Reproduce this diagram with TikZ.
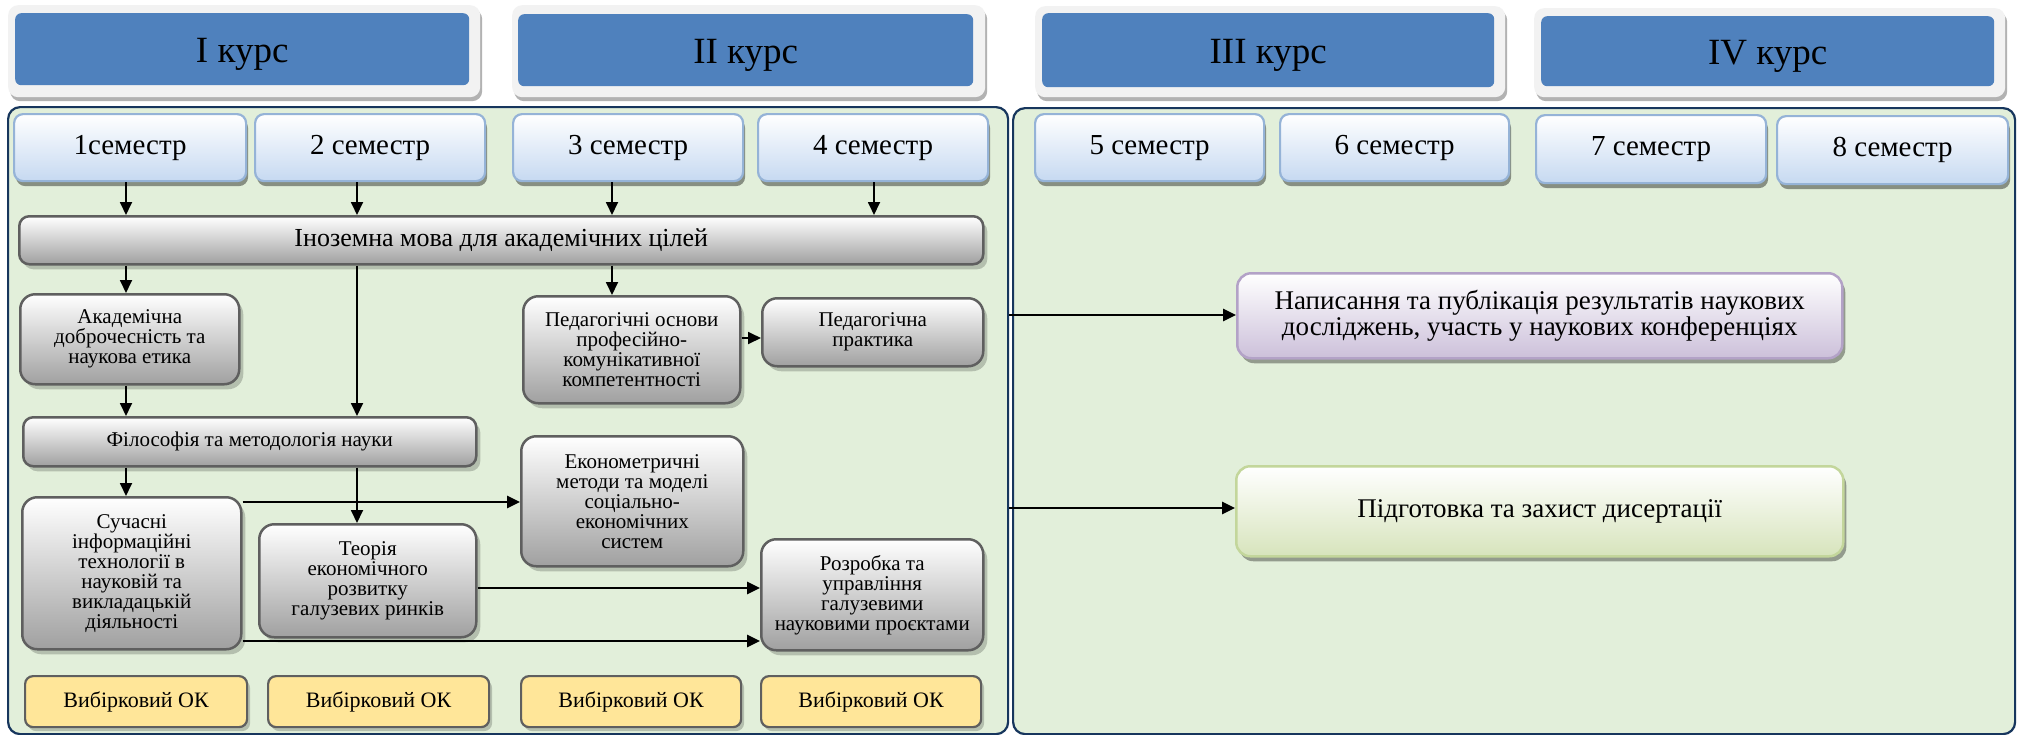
\documentclass[tikz,border=0pt]{standalone}
\usepackage{fontspec}
\setmainfont{Liberation Serif}
\usetikzlibrary{arrows.meta,shadows,calc}
\definecolor{hblue}{HTML}{4F81BD}
\definecolor{hfr}{HTML}{F2F2F2}
\definecolor{pgreen}{HTML}{E2EFDA}
\definecolor{pnavy}{HTML}{17365D}
\definecolor{semb}{HTML}{C6D9F1}
\definecolor{semd}{HTML}{95B3D7}
\definecolor{gbot}{HTML}{A0A0A0}
\definecolor{gdr}{HTML}{5F5F5F}
\definecolor{yel}{HTML}{FFE699}
\definecolor{purb}{HTML}{CCC0DA}
\definecolor{purd}{HTML}{B3A2C7}
\definecolor{grnb}{HTML}{D7E4BC}
\definecolor{grnd}{HTML}{C3D69B}
\newcommand\bx[7]{\node[#1, anchor=north west, minimum width={#5-#3}, minimum height={#6-#4}] (#2) at (#3,#4) {#7};}
\tikzset{
  base/.style={align=center, inner sep=2pt, text=black},
  hframe/.style={base, fill=hfr, rounded corners=10pt, drop shadow={shadow xshift=2pt, shadow yshift=-4pt, fill=black, opacity=0.3}},
  hdr/.style={base, fill=hblue, rounded corners=6pt, font=\fontsize{37}{40}\selectfont, text height=26pt, text depth=0pt},
  panel/.style={base, fill=pgreen, draw=pnavy, line width=2.2pt, rounded corners=12pt},
  sem/.style={base, rounded corners=9pt, top color=white, bottom color=semb, draw=semd, line width=2.2pt, font=\fontsize{29}{31}\selectfont, drop shadow={shadow xshift=2pt, shadow yshift=-5pt, fill=black, opacity=0.4}},
  gbox/.style={base, rounded corners=15pt, top color=white, bottom color=gbot, draw=gdr, line width=2.5pt, font=\fontsize{21}{20}\selectfont, drop shadow={shadow xshift=4pt, shadow yshift=-5pt, fill=black, opacity=0.2}},
  gwide/.style={gbox, rounded corners=10pt, font=\fontsize{26}{28}\selectfont},
  gmid/.style={gbox, rounded corners=10pt},
  ybox/.style={base, rounded corners=8pt, fill=yel, draw=gdr, line width=2.2pt, font=\fontsize{22}{24}\selectfont, drop shadow={shadow xshift=3pt, shadow yshift=-4pt, fill=black, opacity=0.2}},
  pbox/.style={base, rounded corners=14pt, top color=white, bottom color=purb, draw=purd, line width=2.5pt, font=\fontsize{27}{26}\selectfont, drop shadow={shadow xshift=3pt, shadow yshift=-5pt, fill=black, opacity=0.35}},
  lbox/.style={base, rounded corners=14pt, top color=white, bottom color=grnb, draw=grnd, line width=2.5pt, font=\fontsize{27}{29}\selectfont, drop shadow={shadow xshift=3pt, shadow yshift=-5pt, fill=black, opacity=0.35}},
  arr/.style={line width=1.8pt, -{Triangle[length=13pt,width=12pt]}},
  harr/.style={arr, line width=2.6pt},
}
\begin{document}
\begin{tikzpicture}[x=1pt,y=-1pt]
\useasboundingbox (0,0) rectangle (2020,734);
\fill[white] (0,0) rectangle (2020,734);
% course headers
\bx{hframe}{f1}{8}{5}{480}{97}{}
\bx{hdr}{h1}{15}{13}{469}{85}{I курс}
\bx{hframe}{f2}{512}{5}{985}{97}{}
\bx{hdr}{h2}{518}{14}{973}{86}{II курс}
\bx{hframe}{f3}{1035}{6}{1505}{97}{}
\bx{hdr}{h3}{1042}{13}{1494}{87}{III курс}
\bx{hframe}{f4}{1534}{8}{2005}{97}{}
\bx{hdr}{h4}{1541}{16}{1994}{86}{IV курс}
% panels
\bx{panel}{pl}{7}{106}{1007}{733}{}
\bx{panel}{pr}{1012}{107}{2014}{733}{}
% semesters
\bx{sem}{s1}{13}{113}{245}{180}{1семестр}
\bx{sem}{s2}{254}{113}{484}{180}{2 семестр}
\bx{sem}{s3}{512}{113}{742}{180}{3 семестр}
\bx{sem}{s4}{757}{113}{987}{180}{4 семестр}
\bx{sem}{s5}{1034}{113}{1263}{180}{5 семестр}
\bx{sem}{s6}{1279}{113}{1508}{180}{6 семестр}
\bx{sem}{s7}{1535}{114}{1765}{182}{7 семестр}
\bx{sem}{s8}{1776}{115}{2007}{183}{8 семестр}
% courses
\bx{gwide}{ino}{18}{215}{982}{263}{Іноземна мова для академічних цілей}
\bx{gbox}{akad}{19}{293}{238}{383}{Академічна\\доброчесність та\\наукова етика}
\bx{gbox}{ped}{522}{295}{739}{402}{Педагогічні основи\\професійно-\\комунікативної\\компетентності}
\bx{gbox}{prak}{761}{297}{982}{365}{Педагогічна\\практика}
\bx{gmid}{filo}{22}{416}{475}{465}{Філософія та методологія науки}
\bx{gbox}{ekon}{520}{435}{742}{565}{Економетричні\\методи та моделі\\соціально-\\економічних\\систем}
\bx{gbox}{such}{21}{496}{240}{648}{Сучасні\\інформаційні\\технології в\\науковій та\\викладацькій\\діяльності}
\bx{gbox}{teor}{258}{523}{475}{636}{Теорія\\економічного\\розвитку\\галузевих ринків}
\bx{gbox}{rozr}{760}{538}{982}{649}{Розробка та\\управління\\галузевими\\науковими проєктами}
\bx{ybox}{v1}{24}{675}{246}{726}{Вибірковий ОК}
\bx{ybox}{v2}{267}{675}{488}{726}{Вибірковий ОК}
\bx{ybox}{v3}{520}{675}{740}{726}{Вибірковий ОК}
\bx{ybox}{v4}{760}{675}{980}{726}{Вибірковий ОК}
\bx{pbox}{nap}{1236}{272}{1841}{357}{Написання та публікація результатів наукових\\досліджень, участь у наукових конференціях}
\bx{lbox}{pid}{1235}{465}{1842}{555}{Підготовка та захист дисертації}
% helper coordinates
\coordinate (xa) at (126,0);
\coordinate (xb) at (357,0);
\coordinate (xc) at (612,0);
\coordinate (xd) at (874,0);
\coordinate (ya) at (0,502);
\coordinate (yb) at (0,641);
\coordinate (yc) at (0,315);
\coordinate (yd) at (0,508);
\coordinate (ye) at (0,588);
\coordinate (yf) at (0,338);
% connectors
\draw[arr] (s1.south -| xa) -- (ino.north -| xa);
\draw[arr] (s2.south -| xb) -- (ino.north -| xb);
\draw[arr] (s3.south -| xc) -- (ino.north -| xc);
\draw[arr] (s4.south -| xd) -- (ino.north -| xd);
\draw[arr] (ino.south -| xa) -- (akad.north -| xa);
\draw[arr] (ino.south -| xb) -- (filo.north -| xb);
\draw[arr] (ino.south -| xc) -- (ped.north -| xc);
\draw[arr] (akad.south -| xa) -- (filo.north -| xa);
\draw[arr] (ped.east |- yf) -- (prak.west |- yf);
\draw[arr] (filo.south -| xa) -- (such.north -| xa);
\draw[arr] (filo.south -| xb) -- (teor.north -| xb);
\draw[harr] (such.east |- ya) -- (ekon.west |- ya);
\draw[harr] (teor.east |- ye) -- (rozr.west |- ye);
\draw[harr] (such.east |- yb) -- (rozr.west |- yb);
\draw[harr] (pl.east |- yc) -- (nap.west |- yc);
\draw[harr] (pl.east |- yd) -- (pid.west |- yd);
\end{tikzpicture}
\end{document}
